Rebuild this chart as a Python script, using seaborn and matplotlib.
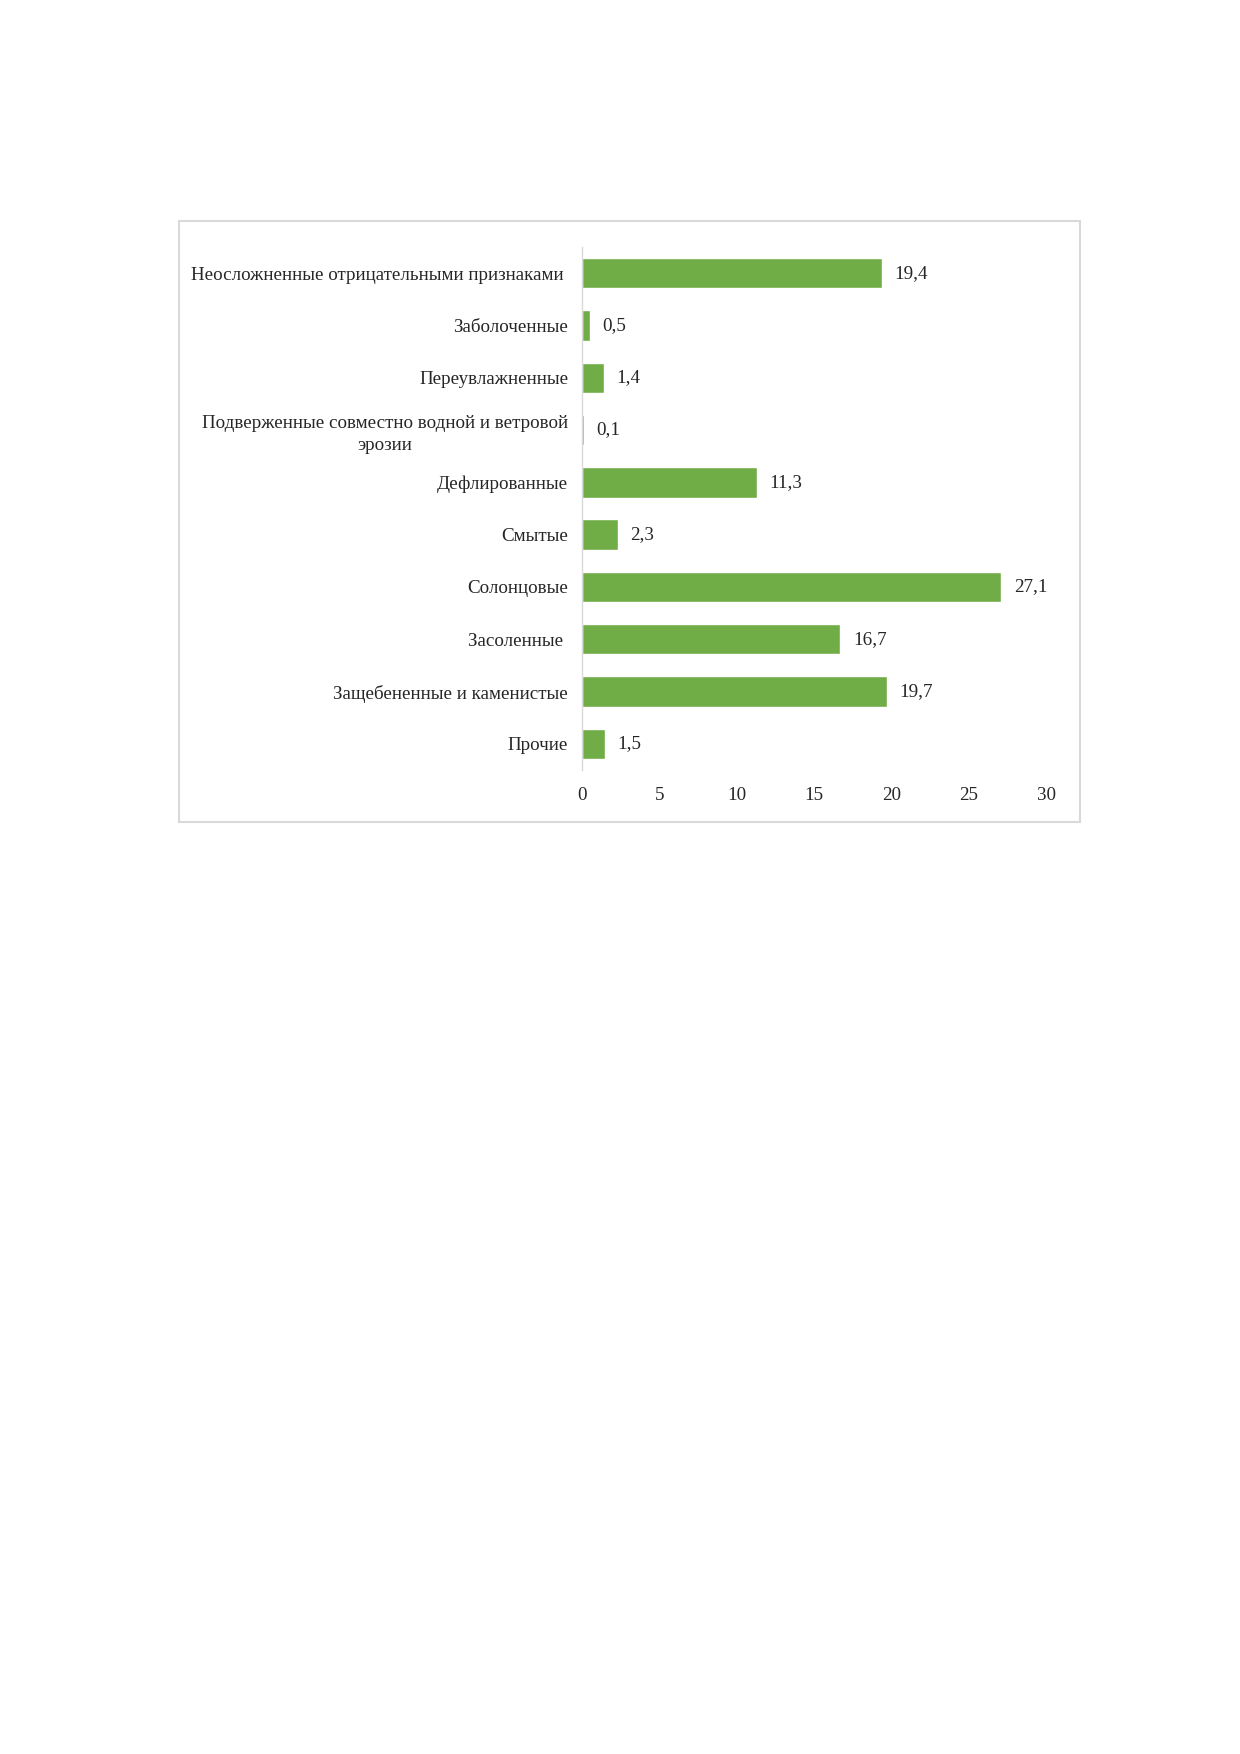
import matplotlib
matplotlib.use("Agg")
import matplotlib.pyplot as plt
import seaborn as sns
from matplotlib.patches import Rectangle

categories = [
    "Неосложненные отрицательными признаками ",
    "Заболоченные",
    "Переувлажненные",
    "Подверженные совместно водной и ветровой\nэрозии",
    "Дефлированные",
    "Смытые",
    "Солонцовые",
    "Засоленные ",
    "Защебененные и каменистые",
    "Прочие",
]
values = [19.4, 0.5, 1.4, 0.1, 11.3, 2.3, 27.1, 16.7, 19.7, 1.5]
xticks = [0, 5, 10, 15, 20, 25, 30]

sns.set_style("white")
plt.rcParams["font.family"] = ["Liberation Serif", "DejaVu Serif"]

W, H = 1240, 1754
FS = 13.7
fig = plt.figure(figsize=(W / 100, H / 100), dpi=100)

# chart area border
fig.patches.append(Rectangle((179 / W, 1 - 822 / H), (1080 - 179) / W, (822 - 221) / H,
                             transform=fig.transFigure, fill=False,
                             edgecolor="#D9D9D9", linewidth=1.5))

ax = fig.add_axes([582 / W, 1 - 770 / H, (1046 - 582) / W, (770 - 247) / H])
sns.barplot(x=values, y=categories, orient="h", color="#70AD47",
            width=0.58, saturation=1, ax=ax)

ax.set_xlim(0, 30)
ax.set_xticks(xticks)
ax.set_xticklabels([str(t) for t in xticks], fontsize=FS)
ax.set_xlabel("")
ax.set_ylabel("")
ax.tick_params(axis="x", length=0, pad=12)
ax.tick_params(axis="y", length=0, pad=10)
for lbl in ax.get_yticklabels():
    lbl.set_fontsize(FS)
    lbl.set_multialignment("center")
    lbl.set_linespacing(1.4)

for s in ["top", "right", "bottom"]:
    ax.spines[s].set_visible(False)
ax.spines["left"].set_color("#D9D9D9")
ax.spines["left"].set_linewidth(1)

for i, v in enumerate(values):
    ax.annotate(f"{v:.1f}".replace(".", ","), xy=(v, i), xytext=(9, 0),
                textcoords="offset points", va="center", ha="left", fontsize=FS)

fig.savefig("out.png", dpi=100, facecolor="white")
